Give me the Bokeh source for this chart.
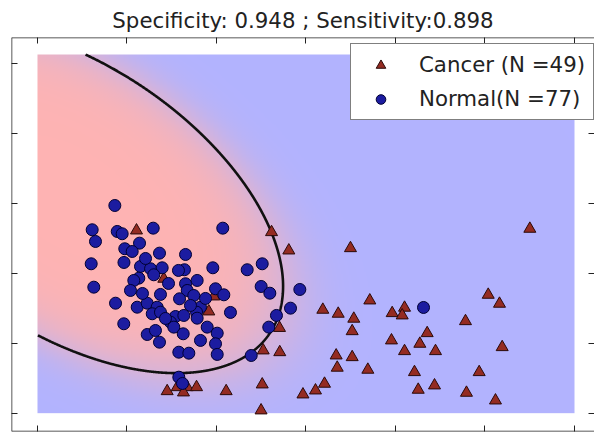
import numpy as np
from bokeh.plotting import figure
from bokeh.models import (Range1d, FixedTicker, LinearAxis, Legend, LegendItem,
                          CustomJSTickFormatter, Span)
from bokeh.embed import file_html
from bokeh.resources import INLINE

title_text = "Specificity: 0.948 ; Sensitivity:0.898"
cancer_label = "Cancer (N =49)"
normal_label = "Normal(N =77)"

x_ticks = [0, 1, 2, 3, 4, 5, 6]
y_ticks = [0, 1, 2, 3, 4, 5]

# background (classifier map) extent
bg_x = [0.0, 6.0]
bg_y = [0.0, 5.124]

# decision boundary samples
boundary_x = [0.536, 1.006, 1.486, 1.933, 2.268, 2.492, 2.626, 2.704, 2.737, 2.737, 2.693,
              2.615, 2.492, 2.313, 2.045, 1.743, 1.453, 1.151, 0.816, 0.480, 0.257, -0.011]
boundary_y = [5.124, 4.796, 4.367, 3.896, 3.281, 2.896, 2.581, 2.324, 2.067, 1.753, 1.467,
              1.210, 0.981, 0.796, 0.653, 0.581, 0.567, 0.610, 0.710, 0.853, 0.967, 1.110]

normal_x = [0.864, 0.611, 0.648, 0.891, 0.946, 1.293, 1.140, 0.975, 1.058, 1.363, 1.654,
            2.070, 0.600, 1.151, 1.263, 1.393, 1.642, 1.959, 1.299, 1.132, 1.076, 0.629,
            1.039, 1.374, 1.654, 1.784, 1.673, 1.746, 1.989, 2.082, 1.587, 0.872, 1.114,
            1.226, 1.337, 1.282, 1.374, 1.821, 1.777, 1.542, 1.635, 1.784, 1.486, 1.523,
            0.964, 1.896, 2.008, 1.226, 1.363, 1.628, 1.989, 1.579, 1.691, 2.008, 1.579,
            2.343, 2.511, 2.499, 2.596, 2.931, 2.827, 2.670, 2.584, 2.388, 1.620, 4.313,
            1.207, 1.464, 1.173, 1.709, 1.430, 1.877, 0.966, 1.318, 1.821, 1.575, 2.156]
normal_y = [2.967, 2.620, 2.453, 2.596, 2.563, 2.643, 2.429, 2.349, 2.310, 2.286, 2.267,
            2.643, 2.134, 2.096, 2.063, 2.077, 2.049, 2.077, 1.977, 1.929, 1.896, 1.800,
            1.753, 1.696, 1.849, 1.896, 1.753, 1.681, 1.777, 1.691, 1.634, 1.571, 1.514,
            1.571, 1.514, 1.420, 1.443, 1.514, 1.443, 1.381, 1.396, 1.357, 1.300, 1.229,
            1.277, 1.229, 1.143, 1.124, 1.014, 1.134, 0.991, 0.871, 0.857, 0.839, 0.514,
            2.049, 2.134, 1.810, 1.714, 1.767, 1.500, 1.396, 1.229, 0.824, 0.424, 1.510,
            2.210, 1.853, 1.710, 1.539, 1.353, 1.639, 2.153, 1.181, 1.039, 2.039, 1.439]

cancer_x = [1.106, 1.411, 1.970, 1.914, 2.615, 2.808, 2.704, 2.522, 2.707, 1.449, 1.561,
            1.673, 1.777, 2.108, 2.511, 2.966, 3.497, 5.501, 3.713, 3.188, 3.360, 3.534,
            3.516, 3.963, 4.101, 4.075, 5.036, 5.162, 4.782, 4.354, 4.272, 3.955, 4.101,
            4.447, 5.192, 3.337, 3.516, 3.349, 3.691, 4.212, 4.935, 3.207, 3.106, 4.254,
            4.436, 4.793, 5.117, 2.498, 1.631]
cancer_y = [2.610, 1.920, 1.667, 1.453, 2.586, 2.324, 1.217, 0.896, 0.871, 0.314, 0.371,
            0.371, 0.371, 0.314, 0.410, 0.267, 2.357, 2.634, 1.610, 1.477, 1.420, 1.349,
            1.171, 1.429, 1.506, 1.396, 1.691, 1.563, 1.314, 1.143, 0.991, 1.039, 0.886,
            0.886, 0.943, 0.824, 0.800, 0.649, 0.620, 0.586, 0.586, 0.420, 0.324, 0.334,
            0.396, 0.291, 0.181, 0.039, 0.296]

# ---- fit a conic (quadratic decision function) through the boundary samples
bx = np.array(boundary_x)
by = np.array(boundary_y)
D = np.column_stack([bx**2, bx*by, by**2, bx, by, np.ones_like(bx)])
_, _, vt = np.linalg.svd(D)
a, b, c, d, e, g = vt[-1]
M = np.array([[2*a, b], [b, 2*c]])
x0, y0 = np.linalg.solve(M, [-d, -e])


def conic(x, y):
    return a*x**2 + b*x*y + c*y**2 + d*x + e*y + g


fc = conic(x0, y0)
sharp = 5.0


def norm_f(x, y):
    return conic(x, y) / abs(fc) * (-1 if fc > 0 else 1)


# background image
nx, ny = 400, 340
gx = np.linspace(bg_x[0], bg_x[1], nx)
gy = np.linspace(bg_y[0], bg_y[1], ny)
GX, GY = np.meshgrid(gx, gy)
F = norm_f(GX, GY)
pin = 1.0 / (1.0 + np.exp(sharp * F))
img = np.empty((ny, nx), dtype=np.uint32)
view = img.view(dtype=np.uint8).reshape((ny, nx, 4))
view[:, :, 0] = np.clip(255 * (0.7 + 0.3 * pin), 0, 255).astype(np.uint8)
view[:, :, 1] = 179
view[:, :, 2] = np.clip(255 * (0.7 + 0.3 * (1 - pin)), 0, 255).astype(np.uint8)
view[:, :, 3] = 255

# boundary curve (ellipse from the conic), clipped to the map
Q = np.array([[a, b/2], [b/2, c]])
w, V = np.linalg.eigh(Q)
t = np.linspace(0, 2*np.pi, 3000)
r1 = np.sqrt(abs(fc) / abs(w[0]))
r2 = np.sqrt(abs(fc) / abs(w[1]))
pts = V @ np.vstack([r1*np.cos(t), r2*np.sin(t)])
ex = pts[0] + x0
ey = pts[1] + y0
outside = (ex < bg_x[0]) | (ex > bg_x[1]) | (ey < bg_y[0]) | (ey > bg_y[1])
k0 = int(np.argmax(outside))
ex = np.roll(np.where(outside, np.nan, ex), -k0)
ey = np.roll(np.where(outside, np.nan, ey), -k0)

xr = Range1d(-0.2905, 6.2235)
yr = Range1d(-0.262, 5.367)
p = figure(width=594, height=432, x_range=xr, y_range=yr,
           output_backend="svg", toolbar_location=None,
           min_border_left=11, min_border_right=0, min_border_top=37, min_border_bottom=1)
p.background_fill_color = "white"
p.border_fill_color = "white"
p.outline_line_color = None
p.grid.visible = False

p.title.text = title_text
p.title.text_font = "DejaVu Sans"
p.title.text_font_size = "21.3px"
p.title.text_font_style = "normal"
p.title.text_color = "#222222"
p.title.align = "center"
p.title.standoff = 9

empty = CustomJSTickFormatter(code="return ''")


def style_axis(ax, ticks):
    ax.ticker = FixedTicker(ticks=ticks)
    ax.formatter = empty
    ax.major_tick_in = 6
    ax.major_tick_out = 0
    ax.minor_tick_line_color = None
    ax.major_label_text_font_size = "0px"
    ax.major_label_standoff = 0
    ax.axis_line_color = None
    ax.major_tick_line_color = "#222222"
    ax.major_tick_line_width = 1


style_axis(p.xaxis[0], x_ticks)
style_axis(p.yaxis[0], y_ticks)
top_ax = LinearAxis()
style_axis(top_ax, x_ticks)
p.add_layout(top_ax, "above")
right_ax = LinearAxis()
style_axis(right_ax, y_ticks)
p.add_layout(right_ax, "right")

# frame edges (left, top, bottom); the right edge lies outside the picture
for loc, dim in [(xr.start, "height"), (yr.end, "width"), (yr.start, "width")]:
    p.add_layout(Span(location=loc, dimension=dim, line_color="#222222", line_width=1.5))

p.image_rgba(image=[img], x=bg_x[0], y=bg_y[0], dw=bg_x[1]-bg_x[0], dh=bg_y[1]-bg_y[0])
p.line(ex, ey, line_color="#111111", line_width=2.6)

r_c = p.scatter(cancer_x, cancer_y, marker="triangle", size=12,
                fill_color="#942b22", line_color="#2a0a0a", line_width=1)
r_n = p.scatter(normal_x, normal_y, marker="circle", size=12,
                fill_color="#1c1ca0", line_color="#000033", line_width=1)

legend = Legend(items=[LegendItem(label=cancer_label, renderers=[r_c]),
                       LegendItem(label=normal_label, renderers=[r_n])],
                location=(339, 311))
legend.label_text_font = "DejaVu Sans"
legend.label_text_font_size = "21.3px"
legend.label_text_color = "#222222"
legend.border_line_color = "black"
legend.border_line_width = 1
legend.background_fill_color = "white"
legend.background_fill_alpha = 1
legend.glyph_width = 43
legend.glyph_height = 24
legend.label_height = 24
legend.label_standoff = 17
legend.spacing = 9
legend.padding = 8
legend.margin = 0
p.add_layout(legend)

open("out.html", "w").write(file_html(p, INLINE))
